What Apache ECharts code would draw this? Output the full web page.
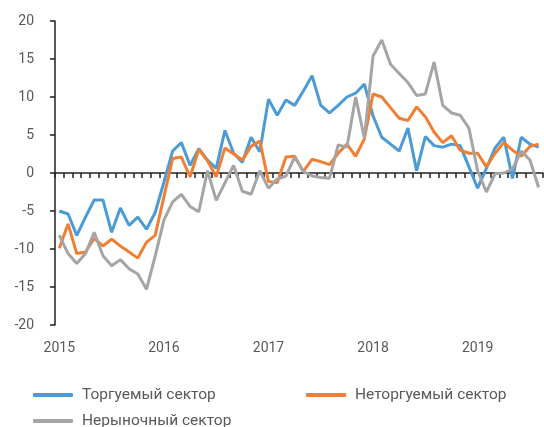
<!DOCTYPE html>
<html>
<head>
<meta charset="utf-8">
<script src="https://cdn.jsdelivr.net/npm/echarts@6/dist/echarts.min.js"></script>
<style>
    html, body { margin: 0; padding: 0; background: #fff; }
    #chart { width: 544px; height: 427px; }
</style>
</head>
<body>
<div id="chart"></div>
<script>
// 数据 ==========================================
const years = ['2015', '2016', '2017', '2018', '2019'];
const months = ['01', '02', '03', '04', '05', '06', '07', '08', '09', '10', '11', '12'];

const tradable = [
    -5.0, -5.4, -8.2, -5.8, -3.55, -3.55, -7.8, -4.6, -6.9, -5.8, -7.4, -5.2,
    -1.2, 2.9, 4.0, 1.0, 3.2, 1.7, 0.6, 5.6, 2.6, 1.4, 4.7, 2.8,
    9.7, 7.6, 9.6, 8.9, 10.8, 12.8, 8.9, 7.9, 8.9, 10.0, 10.5, 11.7,
    7.5, 4.7, 3.8, 2.9, 5.9, 0.3, 4.8, 3.6, 3.4, 3.8, 3.6, 0.8,
    -2.0, 0.6, 3.3, 4.7, -0.7, 4.7, 3.8, 3.4
];
const nonTradable = [
    -9.9, -6.7, -10.6, -10.4, -8.6, -9.6, -8.7, -9.6, -10.4, -11.2, -9.1, -8.2,
    -3.1, 1.9, 2.1, -0.5, 3.1, 1.6, -0.5, 3.3, 2.5, 1.7, 3.5, 4.2,
    -1.1, -1.3, 2.1, 2.2, 0.2, 1.8, 1.5, 1.1, 2.6, 3.8, 2.2, 4.5,
    10.4, 10.0, 8.6, 7.2, 6.9, 8.7, 7.4, 5.4, 4.0, 4.9, 3.0, 2.6,
    2.6, 0.8, 2.6, 4.0, 3.0, 2.2, 3.5, 3.8
];
const nonMarket = [
    -8.2, -10.6, -11.9, -10.6, -7.8, -10.9, -12.2, -11.4, -12.6, -13.3, -15.3, -10.9,
    -6.2, -3.8, -2.8, -4.4, -5.1, 0.3, -3.6, -1.3, 1.0, -2.4, -2.8, 0.3,
    -2.0, -0.8, -0.4, 2.1, 0.2, -0.4, -0.6, -0.7, 3.7, 3.4, 10.0, 4.6,
    15.4, 17.5, 14.3, 13.1, 11.9, 10.2, 10.4, 14.6, 8.9, 7.9, 7.6, 5.9,
    0.3, -2.5, -0.1, 0.0, 0.5, 2.9, 1.7, -1.9
];

const seriesNames = ['Торгуемый сектор', 'Неторгуемый сектор', 'Нерыночный сектор'];
const seriesColors = ['#4a9bd6', '#f07f34', '#a5a5a5'];

// 月份类目 2015-01 ... 2019-08
const categories = [];
years.forEach(y => months.forEach(m => categories.push(y + '-' + m)));
categories.length = tradable.length;

const textColor = '#595959';
const fontFamily = 'Roboto, "DejaVu Sans", sans-serif';

function lineSeries(name, data, color) {
    return {
        name: name,
        type: 'line',
        xAxisIndex: 0,
        data: data,
        symbol: 'none',
        lineStyle: { width: 3, color: color },
        itemStyle: { color: color }
    };
}

function legendAt(name, left, top) {
    return {
        data: [name],
        left: left,
        top: top,
        padding: 0,
        icon: 'roundRect',
        itemWidth: 40,
        itemHeight: 4,
        textStyle: { color: textColor, fontSize: 15.5, fontFamily: fontFamily, padding: [0, 0, 0, 4] }
    };
}

const chart = echarts.init(document.getElementById('chart'), null, { renderer: 'canvas' });

const option = {
    animation: false,
    grid: { left: 55, right: 1, top: 21, bottom: 102 },
    legend: [
        legendAt(seriesNames[0], 33, 387),
        legendAt(seriesNames[1], 306, 387),
        legendAt(seriesNames[2], 33, 413)
    ],
    xAxis: [
        {
            // 零线上的坐标轴（刻度）
            type: 'category',
            data: categories,
            boundaryGap: true,
            axisLine: { onZero: true, lineStyle: { color: '#222', width: 1.5 } },
            axisTick: { show: true, interval: 0, length: 5, lineStyle: { color: '#222', width: 1.5 } },
            axisLabel: { show: false },
            splitLine: { show: false }
        },
        {
            // 底部年份标签
            type: 'category',
            data: categories,
            position: 'bottom',
            boundaryGap: true,
            axisLine: { show: false, onZero: false },
            axisTick: { show: false },
            axisLabel: {
                interval: 11,
                margin: 16,
                color: textColor,
                fontSize: 14,
                fontFamily: fontFamily,
                formatter: v => v.slice(0, 4)
            },
            splitLine: { show: false }
        }
    ],
    yAxis: {
        type: 'value',
        min: -20,
        max: 20,
        interval: 5,
        axisLine: { show: true, lineStyle: { color: '#222', width: 1.5 } },
        axisTick: { show: true, length: 5, lineStyle: { color: '#222', width: 1.5 } },
        axisLabel: { margin: 21, color: textColor, fontSize: 14, fontFamily: fontFamily },
        splitLine: { show: false }
    },
    series: [
        lineSeries(seriesNames[0], tradable, seriesColors[0]),
        lineSeries(seriesNames[1], nonTradable, seriesColors[1]),
        lineSeries(seriesNames[2], nonMarket, seriesColors[2])
    ]
};

chart.setOption(option);
</script>
</body>
</html>
